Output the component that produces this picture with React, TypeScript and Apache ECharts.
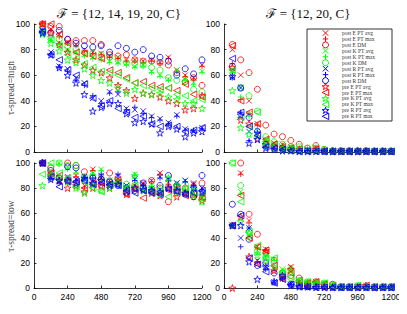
import { useEffect, useRef } from "react";
import * as echarts from "echarts";

const N = [60, 120, 180, 240, 300, 360, 420, 480, 540, 600, 660, 720, 780, 840, 900, 960, 1020, 1080, 1140, 1200];
const X_TICKS = [0, 240, 480, 720, 960, 1200];
const Y_TICKS = [0, 20, 40, 60, 80, 100];

const SERIES_NAMES = [
  "post E PT avg", "post E PT max", "post E DM",
  "post K PT avg", "post K PT max", "post K DM",
  "post R PT avg", "post R PT max", "post R DM",
  "pre E PT avg", "pre E PT max",
  "pre K PT avg", "pre K PT max",
  "pre R PT avg", "pre R PT max",
];

const TITLES = ["\u2131 = {12, 14, 19, 20, C}", "\u2131 = {12, 20, C}"];
const ROW_LABELS = ["\u03c4-spread=high", "\u03c4-spread=low"];

// tau-spread = high, F = {12,14,19,20,C}
const HIGH_F1 = [
  [100, 96, 92, 86, 84, 80, 78, 77, 75, 74, 72, 72, 71, 72, 70, 74, 64, 60, 58, 68],
  [100, 95, 90, 85, 83, 79, 77, 76, 74, 73, 71, 71, 70, 71, 69, 73, 63, 59, 57, 67],
  [100, 98, 98, 88, 87, 87, 87, 84, 76, 75, 76, 72, 71, 71, 70, 68, 62, 55, 58, 52],
  [95, 88, 85, 80, 78, 76, 74, 73, 71, 70, 69, 67, 68, 63, 60, 57, 64, 57, 54, 63],
  [94, 87, 84, 79, 77, 75, 73, 72, 70, 69, 68, 66, 67, 62, 59, 56, 63, 56, 53, 62],
  [97, 90, 88, 82, 80, 78, 77, 76, 74, 72, 70, 69, 68, 66, 64, 58, 56, 55, 49, 47],
  [95, 78, 67, 65, 58, 54, 42, 40, 47, 45, 34, 33, 32, 28, 26, 23, 29, 18, 16, 19],
  [94, 76, 66, 63, 56, 52, 44, 38, 46, 47, 33, 35, 30, 27, 25, 22, 28, 17, 17, 18],
  [94, 93, 95, 88, 85, 83, 82, 83, 78, 83, 81, 78, 80, 75, 74, 71, 60, 65, 61, 72],
  [100, 93, 84, 78, 72, 68, 64, 62, 58, 52, 48, 42, 46, 45, 43, 40, 38, 33, 34, 44],
  [100, 100, 92, 85, 78, 77, 75, 73, 64, 62, 58, 54, 55, 52, 51, 50, 48, 53, 45, 43],
  [92, 85, 79, 72, 70, 65, 60, 56, 54, 50, 46, 49, 46, 45, 46, 43, 41, 38, 38, 34],
  [93, 88, 83, 76, 73, 69, 66, 63, 62, 60, 57, 54, 52, 50, 49, 50, 45, 44, 40, 41],
  [93, 76, 66, 60, 54, 45, 32, 35, 38, 38, 30, 23, 24, 22, 15, 20, 18, 12, 15, 16],
  [94, 76, 72, 64, 60, 53, 42, 36, 40, 34, 31, 27, 28, 22, 20, 21, 20, 16, 17, 19],
];

// tau-spread = high, F = {12,20,C}
const HIGH_F2 = [
  [80, 60, 40, 22, 9, 7, 6, 4, 3, 2, 3, 1, 1, 0.5, 0.5, 0.5, 1, 0.5, 0.5, 0.5],
  [69, 41, 30, 21, 8, 6, 5, 3, 2, 2, 3, 1, 1, 0.5, 0.5, 0.5, 1, 0.5, 0.5, 0.5],
  [84, 72, 62, 49, 21, 14, 12, 9, 6, 3, 5, 2, 1, 1, 1, 1, 1, 0.5, 0.5, 0.5],
  [63, 51, 30, 17, 10, 6, 4, 3, 3, 2, 4, 1, 1, 0.5, 0.5, 0.5, 0.5, 0.5, 0.5, 0.5],
  [62, 43, 28, 16, 9, 5, 4, 3, 3, 2, 3, 1, 1, 0.5, 0.5, 0.5, 0.5, 0.5, 0.5, 0.5],
  [65, 50, 44, 32, 12, 8, 6, 4, 4, 3, 3, 2, 1, 1, 1, 1, 1, 1, 1, 1],
  [59, 50, 16, 14, 5, 3, 2, 1, 1, 1, 1, 0.5, 0.5, 0.5, 0.5, 0.5, 0.5, 0.5, 0.5, 0.5],
  [58, 31, 9, 15, 4, 3, 2, 1, 1, 1, 0.5, 0.5, 0.5, 0.5, 0.5, 0.5, 0.5, 0.5, 0.5, 0.5],
  [67, 50, 27, 16, 6, 4, 3, 2, 1, 1, 1, 0.5, 0.5, 0.5, 0.5, 0.5, 0.5, 0.5, 0.5, 0.5],
  [66, 25, 22, 10, 6, 4, 3, 2, 2, 1, 2, 1, 0.5, 0.5, 0.5, 0.5, 0.5, 0.5, 0.5, 0.5],
  [83, 40, 31, 22, 10, 6, 4, 3, 2, 1, 2, 1, 0.5, 0.5, 0.5, 0.5, 0.5, 0.5, 0.5, 0.5],
  [48, 19, 14, 12, 5, 3, 2, 2, 1, 1, 1, 0.5, 0.5, 0.5, 0.5, 0.5, 0.5, 0.5, 0.5, 0.5],
  [64, 27, 20, 31, 8, 5, 3, 2, 2, 1, 1, 0.5, 0.5, 0.5, 0.5, 0.5, 0.5, 0.5, 0.5, 0.5],
  [59, 29, 7, 10, 3, 2, 1, 1, 0.5, 0.5, 0.5, 0.5, 0.5, 0.5, 0.5, 0.5, 0.5, 0.5, 0.5, 0.5],
  [73, 31, 20, 13, 4, 3, 2, 1, 0.5, 0.5, 0.5, 0.5, 0.5, 0.5, 0.5, 0.5, 0.5, 0.5, 0.5, 0.5],
];

// tau-spread = low, F = {12,14,19,20,C}
const LOW_F1 = [
  [100, 92, 85, 89, 90, 82, 95, 88, 86, 87, 80, 82, 84, 86, 92, 84, 80, 77, 84, 75],
  [100, 91, 86, 88, 89, 80, 94, 87, 85, 86, 79, 81, 83, 85, 91, 83, 79, 76, 83, 74],
  [100, 96, 88, 100, 98, 93, 88, 85, 92, 88, 76, 80, 81, 86, 80, 69, 76, 80, 73, 84],
  [100, 93, 100, 96, 93, 88, 92, 95, 84, 86, 82, 91, 80, 82, 78, 88, 84, 86, 80, 72],
  [100, 92, 99, 95, 92, 87, 91, 94, 83, 85, 81, 90, 79, 81, 77, 87, 83, 85, 79, 71],
  [100, 97, 100, 98, 98, 89, 90, 88, 86, 84, 83, 82, 80, 78, 76, 80, 78, 79, 76, 75],
  [100, 88, 86, 88, 87, 89, 86, 90, 84, 90, 82, 87, 83, 80, 89, 87, 84, 86, 83, 80],
  [100, 87, 84, 87, 86, 88, 88, 91, 83, 91, 81, 86, 82, 79, 88, 86, 83, 85, 82, 79],
  [100, 94, 88, 97, 96, 86, 88, 87, 85, 82, 80, 78, 84, 77, 82, 90, 82, 75, 73, 90],
  [100, 90, 86, 80, 82, 77, 80, 82, 80, 86, 75, 80, 78, 76, 74, 80, 73, 76, 74, 70],
  [100, 92, 90, 86, 85, 80, 84, 81, 82, 84, 75, 79, 72, 77, 76, 78, 80, 74, 75, 72],
  [82, 90, 88, 85, 80, 76, 82, 78, 80, 84, 80, 90, 78, 80, 75, 88, 82, 78, 74, 69],
  [91, 100, 92, 88, 81, 85, 80, 77, 82, 83, 80, 82, 78, 76, 80, 73, 76, 80, 77, 74],
  [100, 87, 86, 86, 84, 88, 84, 86, 82, 83, 77, 80, 79, 78, 77, 80, 78, 76, 80, 77],
  [100, 89, 81, 85, 85, 86, 83, 84, 83, 82, 78, 76, 78, 76, 75, 79, 77, 75, 76, 78],
];

// tau-spread = low, F = {12,20,C}
const LOW_F2 = [
  [50, 92, 54, 33, 31, 15, 10, 17, 5, 4, 5, 3, 2, 1, 1, 1, 2, 0.5, 1, 0.5],
  [50, 91, 52, 32, 30, 14, 9, 16, 4, 4, 4, 3, 2, 1, 1, 1, 2, 0.5, 1, 0.5],
  [50, 100, 59, 43, 28, 22, 12, 10, 8, 3, 5, 3, 3, 1, 1, 1, 1, 1, 1, 1],
  [50, 77, 42, 30, 26, 23, 15, 16, 6, 5, 4, 4, 2, 1, 1, 2, 1, 1, 1, 1],
  [50, 75, 40, 28, 25, 22, 14, 15, 5, 5, 4, 3, 2, 1, 1, 2, 1, 1, 1, 1],
  [100, 82, 45, 29, 25, 20, 12, 8, 6, 5, 4, 4, 2, 1, 1, 2, 1, 1, 1, 1],
  [50, 40, 48, 22, 17, 5, 8, 3, 2, 1, 1, 1, 0.5, 0.5, 0.5, 0.5, 0.5, 0.5, 0.5, 0.5],
  [50, 33, 48, 21, 15, 4, 7, 3, 2, 1, 1, 1, 0.5, 0.5, 0.5, 0.5, 0.5, 0.5, 0.5, 0.5],
  [67, 59, 39, 18, 20, 12, 9, 3, 2, 1, 1, 1, 0.5, 0.5, 0.5, 0.5, 0.5, 0.5, 0.5, 0.5],
  [0, 57, 25, 20, 30, 14, 8, 15, 4, 3, 4, 2, 1, 1, 1, 1, 2, 0.5, 1, 0.5],
  [50, 74, 40, 33, 30, 18, 10, 12, 6, 4, 5, 3, 2, 1, 1, 1, 2, 1, 1, 1],
  [50, 53, 44, 26, 22, 17, 12, 14, 5, 4, 4, 3, 2, 1, 1, 1, 1, 1, 1, 0.5],
  [100, 69, 45, 34, 24, 24, 13, 9, 6, 5, 3, 4, 2, 1, 1, 2, 1, 1, 1, 1],
  [50, 50, 21, 7, 17, 5, 10, 2, 1, 1, 0.5, 0.5, 0.5, 0.5, 0.5, 0.5, 0.5, 0.5, 0.5, 0.5],
  [50, 58, 24, 19, 13, 4, 7, 3, 1, 1, 0.5, 0.5, 0.5, 0.5, 0.5, 0.5, 0.5, 0.5, 0.5, 0.5],
];

const PANELS = [HIGH_F1, HIGH_F2, LOW_F1, LOW_F2];

const RED = "#ff0000";
const GREEN = "#00ff00";
const BLUE = "#0000ff";

const SYM_X = "path://M0,0L10,10M10,0L0,10";
const SYM_PLUS = "path://M5,0L5,10M0,5L10,5";
const STAR_PTS = [
  [10, 0], [12.245, 6.91], [19.51, 6.91], [13.633, 11.18], [15.88, 18.09],
  [10, 13.82], [4.12, 18.09], [6.367, 11.18], [0.49, 6.91], [7.755, 6.91],
];
const SYM_STAR = "path://M" + STAR_PTS.map((p) => p.join(",")).join("L") + "Z";
const SYM_TRI = "path://M0,5L10,0L10,10Z";

type Kind = "x" | "plus" | "o" | "star" | "tri";

function styleFor(i: number) {
  if (i < 9) {
    const color = [RED, GREEN, BLUE][Math.floor(i / 3)];
    const k = i % 3;
    const kind: Kind = k === 0 ? "x" : k === 1 ? "plus" : "o";
    const symbol = k === 0 ? SYM_X : k === 1 ? SYM_PLUS : "circle";
    const size = k === 2 ? 6 : 5.5;
    return { color, symbol, size, kind };
  }
  const j = i - 9;
  const color = [RED, GREEN, BLUE][Math.floor(j / 2)];
  const kind: Kind = j % 2 === 0 ? "star" : "tri";
  const symbol = j % 2 === 0 ? SYM_STAR : SYM_TRI;
  const size = j % 2 === 0 ? 7 : 6.5;
  return { color, symbol, size, kind };
}

function legendIcon(kind: Kind, cx: number, cy: number, s: number, color: string): any[] {
  const st = { stroke: color, lineWidth: 1, fill: "none" };
  const h = s / 2;
  if (kind === "x")
    return [
      { type: "line", shape: { x1: cx - h, y1: cy - h, x2: cx + h, y2: cy + h }, style: st },
      { type: "line", shape: { x1: cx + h, y1: cy - h, x2: cx - h, y2: cy + h }, style: st },
    ];
  if (kind === "plus")
    return [
      { type: "line", shape: { x1: cx, y1: cy - h, x2: cx, y2: cy + h }, style: st },
      { type: "line", shape: { x1: cx - h, y1: cy, x2: cx + h, y2: cy }, style: st },
    ];
  if (kind === "o") return [{ type: "circle", shape: { cx, cy, r: h }, style: st }];
  if (kind === "tri")
    return [
      {
        type: "polygon",
        shape: { points: [[cx - h, cy], [cx + h, cy - h], [cx + h, cy + h]] },
        style: st,
      },
    ];
  const k = s / 20;
  return [
    {
      type: "polygon",
      shape: { points: STAR_PTS.map(([px, py]) => [cx - h + px * k, cy - 9.05 * k + py * k]) },
      style: st,
    },
  ];
}

const GRIDS = [
  { left: 34, top: 24, width: 168, height: 128 },
  { left: 224, top: 24, width: 167, height: 128 },
  { left: 34, top: 163, width: 168, height: 127 },
  { left: 224, top: 163, width: 167, height: 127 },
];

export default function App() {
  const ref = useRef<HTMLDivElement>(null);
  useEffect(() => {
    if (!ref.current) return;
    const chart = echarts.init(ref.current, null, { renderer: "svg" });
    const axisLine = { show: true, lineStyle: { color: "#000", width: 0.8 } };
    const tickFont = { fontSize: 8.5, color: "#000", fontFamily: "Liberation Sans" };

    const xAxis = GRIDS.map((_, p) => ({
      type: "value",
      gridIndex: p,
      min: X_TICKS[0],
      max: X_TICKS[X_TICKS.length - 1],
      interval: X_TICKS[1] - X_TICKS[0],
      axisLine,
      axisTick: { show: true, inside: true, length: 2.5, lineStyle: { color: "#000", width: 0.8 } },
      axisLabel: { show: p >= 2, margin: 4, formatter: (v: number) => String(v), ...tickFont },
      splitLine: { show: false },
      name: p >= 2 ? "n" : "",
      nameLocation: "middle",
      nameGap: 15,
      nameTextStyle: { fontFamily: "Liberation Serif", fontStyle: "italic", fontSize: 10, color: "#333" },
    }));
    const yAxis = GRIDS.map((_, p) => ({
      type: "value",
      gridIndex: p,
      min: Y_TICKS[0],
      max: Y_TICKS[Y_TICKS.length - 1],
      interval: Y_TICKS[1] - Y_TICKS[0],
      axisLine,
      axisTick: { show: true, inside: true, length: 2.5, lineStyle: { color: "#000", width: 0.8 } },
      axisLabel: { margin: 4, formatter: (v: number) => String(v), ...tickFont },
      splitLine: { show: false },
    }));

    const series: any[] = [];
    PANELS.forEach((panel, p) => {
      panel.forEach((vals, i) => {
        const st = styleFor(i);
        series.push({
          type: "scatter",
          name: SERIES_NAMES[i],
          xAxisIndex: p,
          yAxisIndex: p,
          symbol: st.symbol,
          symbolSize: st.size,
          clip: false,
          itemStyle: { color: "transparent", borderColor: st.color, borderWidth: 1 },
          emphasis: { disabled: true },
          data: N.map((n, k) => [n, vals[k]]),
        });
      });
    });

    const rowLabel = (text: string, y: number) => ({
      type: "text",
      x: 11,
      y,
      rotation: Math.PI / 2,
      style: {
        text,
        textAlign: "center",
        textVerticalAlign: "middle",
        font: "9.5px 'Liberation Serif'",
        fill: "#444",
      },
    });
    const title = (text: string, x: number) => ({
      type: "text",
      x,
      y: 13,
      style: {
        text,
        textAlign: "center",
        textVerticalAlign: "middle",
        font: "13px 'Liberation Serif'",
        fill: "#111",
      },
    });

    // manual legend box
    const LX = 307, LY = 29, LW = 85, LH = 92;
    const legendEls: any[] = [
      {
        type: "rect",
        shape: { x: LX, y: LY, width: LW, height: LH },
        style: { fill: "#fff", stroke: "#000", lineWidth: 0.8 },
      },
    ];
    SERIES_NAMES.forEach((name, i) => {
      const st = styleFor(i);
      const cy = LY + 4 + i * 5.95;
      legendEls.push(...legendIcon(st.kind, 325.5, cy, st.size, st.color));
      legendEls.push({
        type: "text",
        x: 342,
        y: cy,
        style: {
          text: name,
          textAlign: "left",
          textVerticalAlign: "middle",
          font: "5.5px 'Liberation Serif'",
          fill: "#333",
        },
      });
    });

    chart.setOption({
      animation: false,
      grid: GRIDS.map((g) => ({ ...g, containLabel: false })),
      xAxis,
      yAxis,
      graphic: [
        title(TITLES[0], 119),
        title(TITLES[1], 308),
        rowLabel(ROW_LABELS[0], 88),
        rowLabel(ROW_LABELS[1], 226),
        { type: "group", z: 100, children: legendEls },
      ],
      series,
    });
    return () => chart.dispose();
  }, []);
  return <div ref={ref} style={{ width: 407, height: 314, margin: -8 }} />;
}
